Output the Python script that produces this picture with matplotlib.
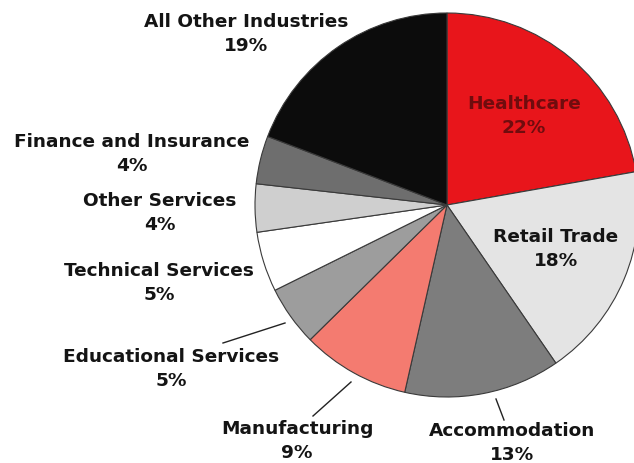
import matplotlib.pyplot as plt

# ======================================================
# DATA
# ======================================================

industries = [
    "Healthcare", "Retail Trade", "Accommodation", "Manufacturing",
    "Educational Services", "Technical Services", "Other Services",
    "Finance and Insurance", "All Other Industries",
]
shares = [22, 18, 13, 9, 5, 5, 4, 4, 19]

colors = [
    "#e8151b", "#e4e4e4", "#7d7d7d", "#f47b70",
    "#9d9d9d", "#ffffff", "#cfcfcf", "#6e6e6e", "#0c0c0c",
]

# label anchor in pixel coords (x, y of the name line)
label_pos = {
    "Healthcare": (524, 104),
    "Retail Trade": (556, 237),
    "Accommodation": (512, 431),
    "Manufacturing": (297, 429),
    "Educational Services": (171, 357),
    "Technical Services": (159, 271),
    "Other Services": (160, 201),
    "Finance and Insurance": (132, 142),
    "All Other Industries": (246, 22),
}

leaders = {
    "Accommodation": [(496, 399), (504, 420)],
    "Manufacturing": [(351, 382), (313, 416)],
    "Educational Services": [(285, 323), (223, 343)],
}

W, H = 634, 463
CX, CY, R = 447, 205, 192

# ======================================================
# PLOT
# ======================================================

fig = plt.figure(figsize=(W / 100, H / 100), dpi=100)
ax = fig.add_axes([0, 0, 1, 1])

ax.pie(
    shares,
    colors=colors,
    startangle=90,
    counterclock=False,
    center=(CX, H - CY),
    radius=R,
    frame=True,
    wedgeprops=dict(edgecolor="#3a3a3a", linewidth=0.8),
)

ax.set_xlim(0, W)
ax.set_ylim(0, H)
ax.set_aspect("equal")
ax.axis("off")

font = dict(family="DejaVu Sans", weight="bold", fontsize=13.3, ha="center", va="center")

for name, val in zip(industries, shares):
    x, y = label_pos[name]
    col = "#700c0e" if name == "Healthcare" else "#141414"
    ax.text(x, H - y, name, color=col, **font)
    ax.text(x, H - y - 24, f"{val}%", color=col, **font)

for name, pts in leaders.items():
    (x1, y1), (x2, y2) = pts
    ax.plot([x1, x2], [H - y1, H - y2], color="#222222", lw=1)

fig.savefig("out.png", dpi=100)
